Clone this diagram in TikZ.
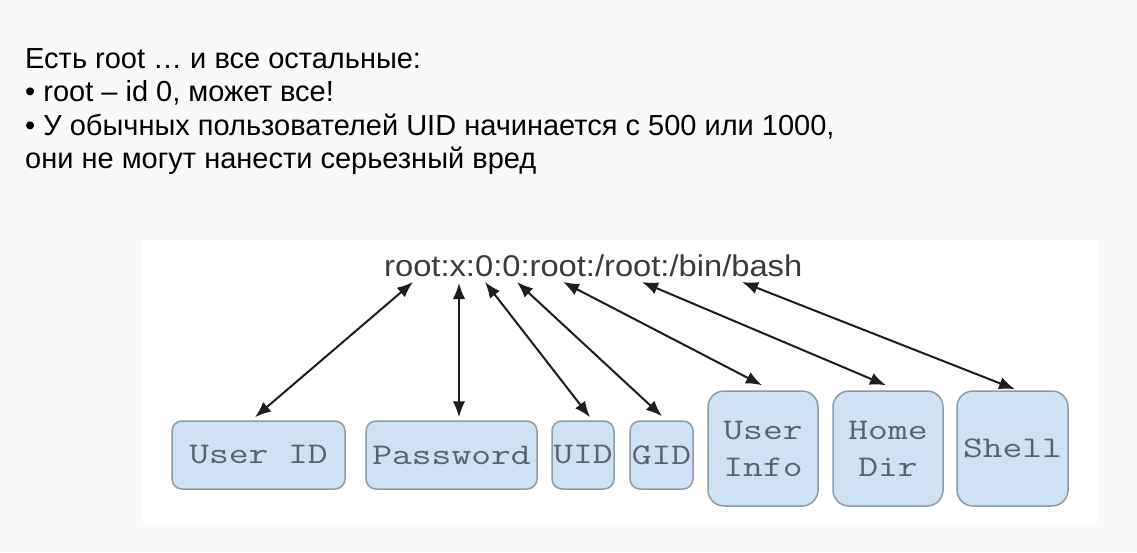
\documentclass[tikz,border=0pt]{standalone}
\usepackage{fontspec}
\setmainfont{Liberation Sans}
\usetikzlibrary{arrows.meta}
\definecolor{bgc}{HTML}{F9F9F9}
\definecolor{boxfill}{HTML}{CFE2F3}
\definecolor{boxline}{HTML}{8E9BA6}
\definecolor{boxtext}{HTML}{56626C}
\definecolor{strtext}{HTML}{3C3C3C}
\definecolor{arrc}{HTML}{1E1E1E}
\newcommand{\wide}[1]{\scalebox{1.28}[1]{#1}}
\tikzset{
  titletext/.style={anchor=base west,inner sep=0pt,font=\fontsize{29}{33.3}\selectfont,text=black},
  fieldbox/.style={draw=boxline,line width=1.5pt,fill=boxfill,rounded corners=10pt,inner sep=0pt,
    font=\ttfamily\fontsize{30}{37}\selectfont,text=boxtext,align=center,minimum height=68pt},
  tallbox/.style={fieldbox,rounded corners=16pt,minimum height=115pt},
  link/.style={draw=arrc,line width=2pt,{Latex[length=16pt,width=12.5pt]}-{Latex[length=16pt,width=12.5pt]}}
}
\begin{document}
\begin{tikzpicture}[x=1pt,y=-1pt]
\useasboundingbox (0,0) rectangle (1137,552);
\fill[bgc] (0,0) rectangle (1137,552);
\fill[white] (143,240) rectangle (1097,525);
% title text
\node[titletext] (l1) at (25,68.3) {Есть root … и все остальные:};
\node[titletext] (l2) at (25,101.7) {• root – id 0, может все!};
\node[titletext] (l3) at (25,135) {• У обычных пользователей UID начинается с 500 или 1000,};
\node[titletext] (l4) at (25,168.3) {они не могут нанести серьезный вред};
% passwd line
\node[anchor=base west,inner sep=0pt,text=strtext,font=\fontsize{30}{36}\selectfont] (line) at (384,276.7) {\scalebox{1.09}[1]{root:x:0:0:root:/root:/bin/bash}};
\coordinate (t1) at (413,282);
\coordinate (t2) at (459,283);
\coordinate (t3) at (485,282);
\coordinate (t4) at (517,282);
\coordinate (t5) at (563,282);
\coordinate (t6) at (642,282);
\coordinate (t7) at (742,282);
% boxes
\node[fieldbox,minimum width=173pt] (userid) at (258.5,455) {\wide{User ID}};
\node[fieldbox,minimum width=171pt] (passwd) at (451.5,455) {\wide{Password}};
\node[fieldbox,minimum width=62pt] (uid) at (583,455) {\wide{UID}};
\node[fieldbox,minimum width=63pt] (gid) at (661.5,455) {\wide{GID}};
\node[tallbox,minimum width=110pt] (info) at (763,448.5) {\wide{User}\\\wide{Info}};
\node[tallbox,minimum width=110pt] (home) at (888,448.5) {\wide{Home}\\\wide{Dir}};
\node[tallbox,minimum width=111pt] (shell) at (1012.5,448.5) {\wide{Shell}};
% connectors
\draw[link] (t1) -- ([xshift=-3.5pt,yshift=3pt]userid.north);
\draw[link] (t2) -- ([xshift=7.5pt,yshift=3pt]passwd.north);
\draw[link] (t3) -- ([xshift=7pt,yshift=3pt]uid.north);
\draw[link] (t4) -- ([xshift=0.5pt,yshift=4pt]gid.north);
\draw[link] (t5) -- ([xshift=-1pt,yshift=5pt]info.north);
\draw[link] (t6) -- ([xshift=-2pt,yshift=5pt]home.north);
\draw[link] (t7) -- ([xshift=2.5pt,yshift=1pt]shell.north);
\end{tikzpicture}
\end{document}
